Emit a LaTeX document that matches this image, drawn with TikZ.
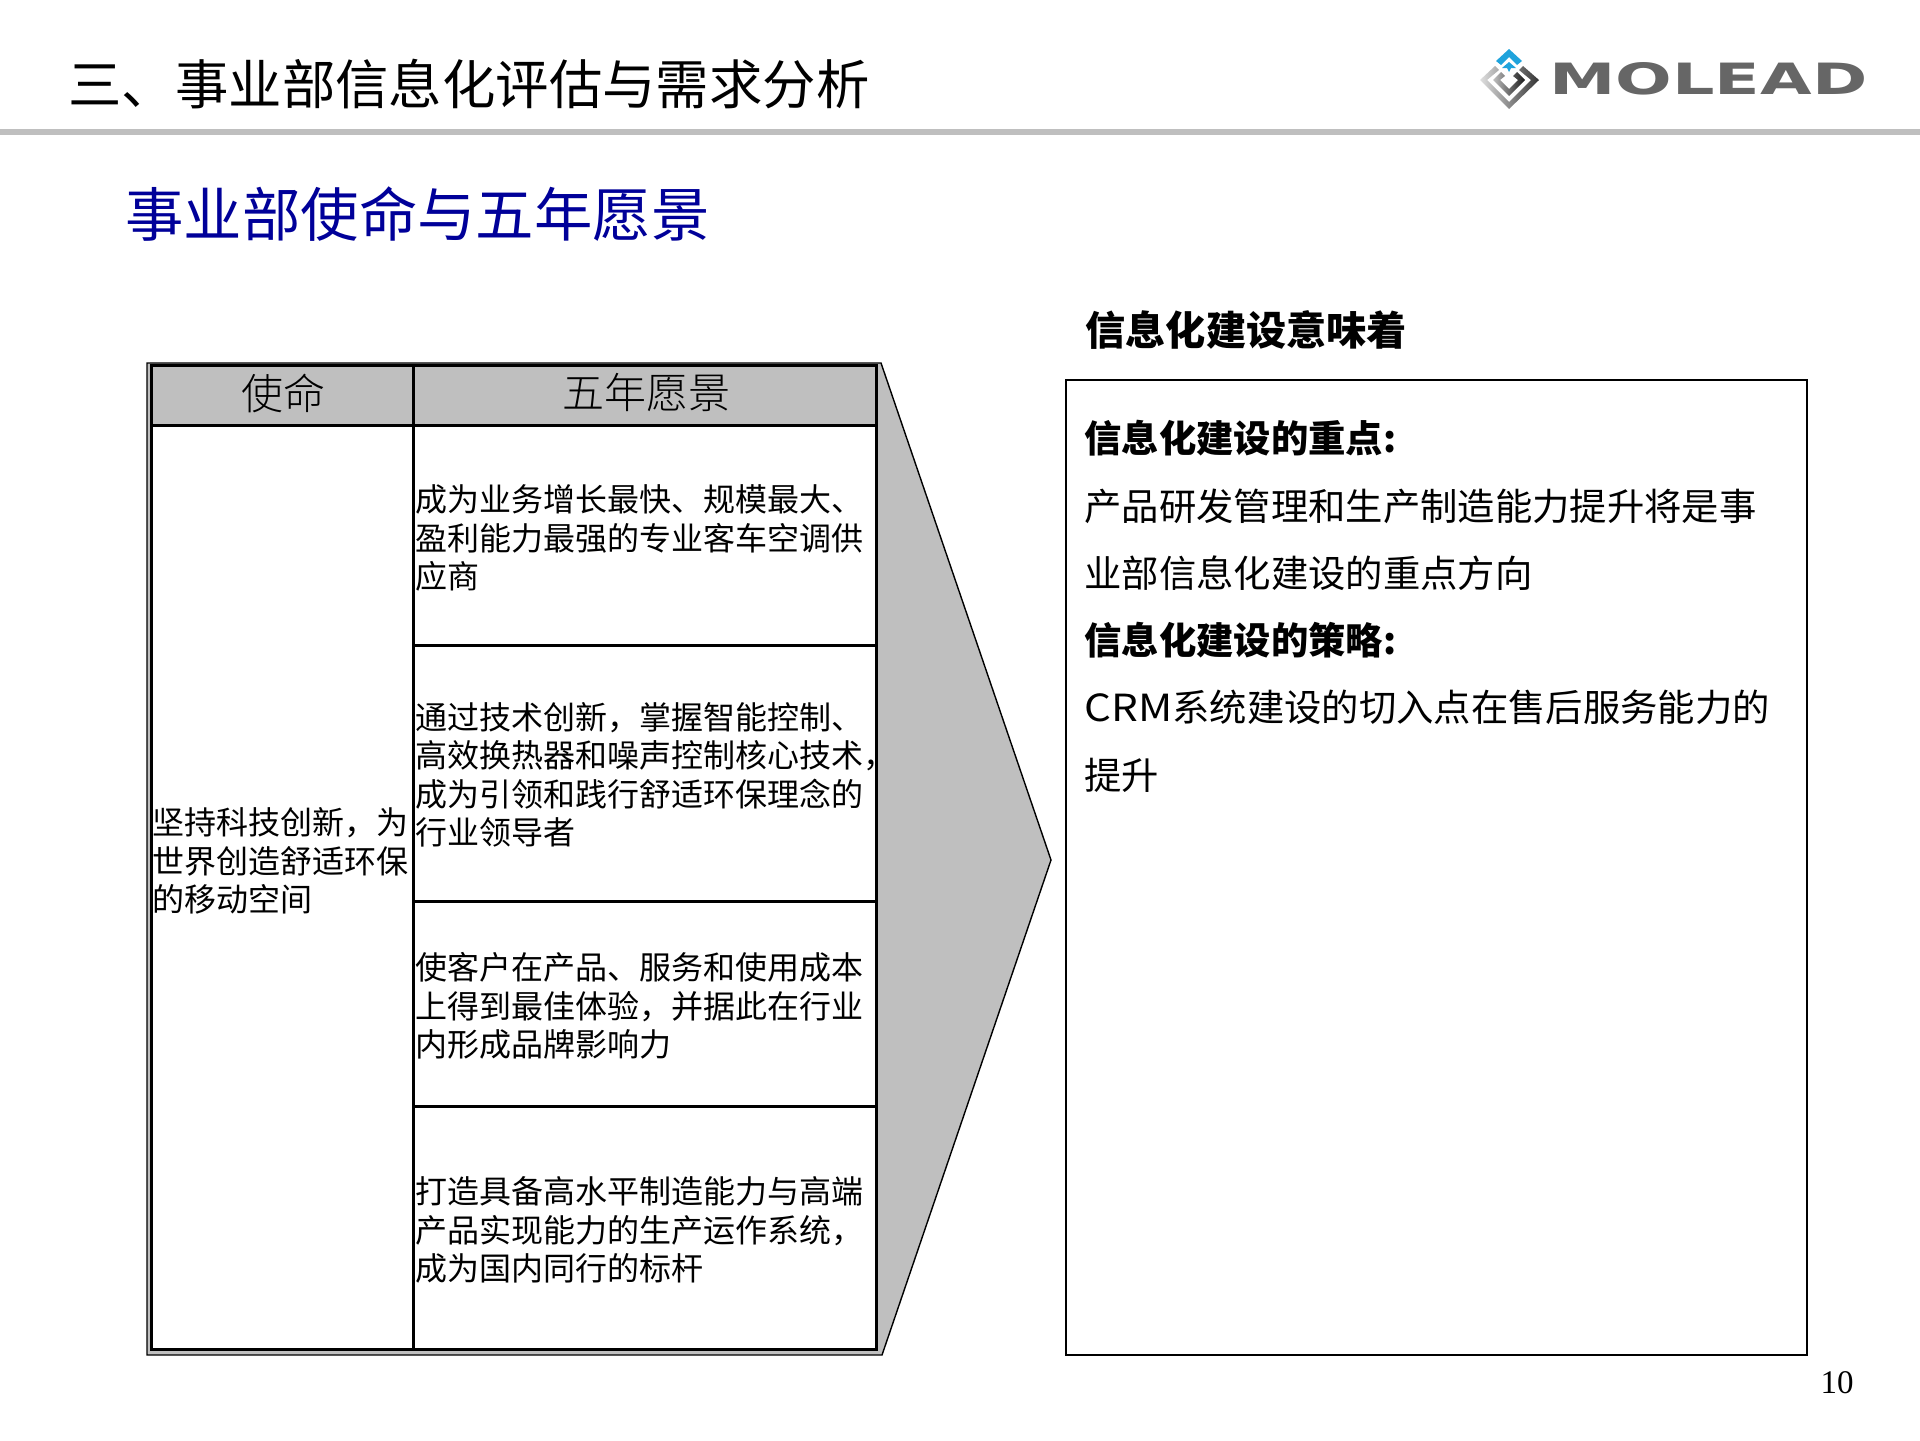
\documentclass[tikz,border=0pt]{standalone}
\usepackage{fontspec}
\setmainfont{Noto Sans CJK SC}
\newfontfamily\numfont{Liberation Serif}
\newfontfamily\logofont{DejaVu Sans}
\newfontfamily\lightfont{Noto Sans CJK SC Light}
\usetikzlibrary{calc}
\definecolor{rulegray}{HTML}{BFBFBF}
\definecolor{subtitleblue}{HTML}{000099}
\definecolor{logogray}{HTML}{666666}
\definecolor{logoblue}{HTML}{1FA3DC}
\tikzset{
  cell/.style={anchor=west, align=left, inner sep=0pt, font=\fontsize{16}{19.25}\selectfont},
  headcell/.style={anchor=center, inner sep=0pt, font=\fontsize{21}{25}\selectfont\lightfont},
  gridline/.style={line width=1.5pt, black},
}
\begin{document}
\begin{tikzpicture}[x=0.5pt,y=-0.5pt]
            \useasboundingbox (0,0) rectangle (1920,1440);
            % Header
            \fill[rulegray] (0,129) rectangle (1920,135);
            \node[anchor=west, inner sep=0pt, font=\fontsize{26.7}{30}\selectfont] (title) at (68,84) {三、事业部信息化评估与需求分析};
            \node[anchor=west, inner sep=0pt, text=subtitleblue, font=\fontsize{29.2}{34}\selectfont] (subtitle) at (125,214) {事业部使命与五年愿景};

            % Logo
            \fill[logoblue] (1496,61) -- (1509,49) -- (1522,61) -- (1517,65) -- (1509,57) -- (1501,65) -- cycle;
            \fill[logoblue] (1502,68) -- (1509,62) -- (1516,68) -- (1511,68) -- (1509,72) -- (1507,68) -- cycle;
            \shade[left color=gray!25, right color=black!80] (1495,66) -- (1480,80) -- (1509,109) -- (1539,80) -- (1523,66) -- (1519,70) -- (1531,80) -- (1509,102) -- (1487,80) -- (1499,70) -- cycle;
            \shade[left color=gray!50, right color=black!90] (1501,72) -- (1493,80) -- (1509,96) -- (1525,80) -- (1517,72) -- (1513,76) -- (1518,80) -- (1509,89) -- (1500,80) -- (1505,76) -- cycle;
            \node[anchor=west, inner sep=0pt, text=logogray] (logotext) at (1549,79) {\resizebox{159pt}{16pt}{\logofont\bfseries MOLEAD}};

            % Arrow behind the table
            \draw[fill=rulegray, line width=0.7pt] (147,363) -- (881,363) -- (1051,860) -- (882,1355) -- (147,1355) -- cycle;

            % Table
            \draw[gridline, fill=rulegray] (151,365) rectangle (876,425);
            \draw[gridline, fill=white] (151,425) rectangle (876,1349);
            \draw[gridline] (413,365) -- (413,1349);
            \draw[gridline] (413,645) -- (876,645);
            \draw[gridline] (413,901) -- (876,901);
            \draw[gridline] (413,1106) -- (876,1106);

            % Table texts
            \node[headcell] (mission) at (283,393) {使命};
            \node[headcell] (vision) at (646,393) {五年愿景};
            \node[cell] (missiontext) at (152,861) {坚持科技创新，为\\世界创造舒适环保\\的移动空间};
            \node[cell] (visiona) at (415,538) {成为业务增长最快、规模最大、\\盈利能力最强的专业客车空调供\\应商};
            \node[cell] (visionb) at (415,775) {通过技术创新，掌握智能控制、\\高效换热器和噪声控制核心技术，\\成为引领和践行舒适环保理念的\\行业领导者};
            \node[cell] (visionc) at (415,1006) {使客户在产品、服务和使用成本\\上得到最佳体验，并据此在行业\\内形成品牌影响力};
            \node[cell] (visiond) at (415,1230) {打造具备高水平制造能力与高端\\产品实现能力的生产运作系统，\\成为国内同行的标杆};

            % Right box
            \node[anchor=west, inner sep=0pt, font=\fontsize{20.1}{24}\selectfont\bfseries] (boxtitle) at (1085,330) {信息化建设意味着};
            \draw[line width=0.7pt] (1066,380) rectangle (1807,1355);
            \node[anchor=north west, align=left, inner sep=0pt, font=\fontsize{18.67}{33.65}\selectfont] (boxtext) at (1084,420) {\textbf{信息化建设的重点:}\\产品研发管理和生产制造能力提升将是事\\业部信息化建设的重点方向\\\textbf{信息化建设的策略:}\\\scalebox{1.13}[1]{CRM}系统建设的切入点在售后服务能力的\\提升};

            % Page number
            \node[inner sep=0pt, font=\fontsize{16.5}{20}\selectfont\numfont] (pagenum) at (1837,1383) {10};
        \end{tikzpicture}
\end{document}
